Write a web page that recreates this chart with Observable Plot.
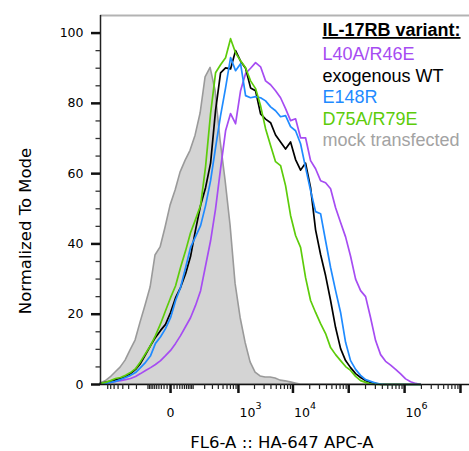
<!DOCTYPE html>
<html><head><meta charset="utf-8">
<script src="https://cdn.jsdelivr.net/npm/d3@7"></script>
<script src="https://cdn.jsdelivr.net/npm/@observablehq/plot@0.6"></script>
<style>
html,body{margin:0;padding:0;background:#fff;}
.legend-title text{text-decoration:underline;}
</style></head><body><div id="chart"></div>
<script>
// fluorescence intensity (FL6-A) at which each histogram height is read
const bins = [-1098,-881,-705,-562,-445,-350,-273,-210,-159,-117,-83,-56,-33,-15,0,
  15,33,56,83,117,159,210,273,350,445,
  562,705,881,1098,1364,1691,2092,2586,3192,3939,
  4850,5974,7358,9055,11140,13710,16860,20730,25490,31350,
  38530,47360,58220,71550,87900,108000,132800,163200,200600,246400,
  302800,372100,457300,562000,690700,849000,1043000,1282000,1575000,1935000];

const mock = [0.3,0.9,2.0,3.4,4.8,6.8,9.7,12.5,17.6,22.5,27.6,36.7,39.0,44.6,50.9,
  55.2,60.3,63.7,66.5,70.8,77.1,87.4,90.1,83.6,69.4,
  58.0,45.2,28.7,19.0,11.9,6.3,3.4,2.3,2.0,2.0,
  1.7,1.1,0.9,0.6,0.3,0,0,0,0,0,
  0,0,0,0,0,0,0,0,0,0,
  0,0,0,0,0,0,0,0,0,0];

const l40a = [0.3,0.3,0.6,0.9,1.1,1.4,1.7,2.3,3.1,4.0,4.8,5.7,6.8,8.2,9.7,
  11.7,13.9,16.5,19.0,22.5,26.7,33.8,40.9,50.0,61.4,
  72.2,77.1,74.2,83.6,88.5,90.0,91.6,90.4,86.4,85.3,
  83.6,81.6,78.5,75.1,75.6,70.2,70.2,63.7,61.4,58.0,
  57.4,55.7,50.3,46.1,42.0,36.5,30.0,26.7,25.0,19.0,
  12.5,8.5,6.6,5.5,4.3,3.0,1.6,0.8,0.3,0];

const wt = [0.3,0.6,0.9,1.4,1.7,2.3,3.1,4.3,6.0,8.5,11.1,13.4,15.4,17.1,20.5,
  24.7,27.6,31.6,36.4,44.0,51.0,56.0,63.0,78.0,88.7,
  90.1,89.8,95.0,92.0,90.0,84.4,83.6,77.0,75.5,74.5,
  71.0,69.0,67.0,69.0,64.0,61.0,63.0,56.0,44.0,37.0,
  31.0,23.9,16.2,10.2,6.8,4.8,3.1,2.0,1.1,0.6,
  0.3,0,0,0,0,0,0,0,0,0];

const e148r = [0.3,0.3,0.6,0.9,1.4,2.0,2.6,3.4,4.8,6.3,8.2,11.7,13.6,15.9,19.0,
  23.9,27.6,33.3,39.0,42.1,45.2,50.9,58.0,67.4,76.5,
  84.4,93.0,89.3,91.3,82.2,81.6,81.9,81.6,80.7,79.0,
  77.9,76.2,76.5,73.4,72.2,68.5,61.7,55.2,49.2,48.6,
  40.9,33.3,26.7,20.5,12.0,6.8,4.3,2.6,1.4,0.9,
  0.4,0.1,0,0,0,0,0,0,0,0];

const d75a = [0.3,0.6,1.1,1.7,2.0,2.6,3.4,4.5,6.5,8.8,11.1,13.9,17.3,21.0,24.7,
  28.1,33.3,38.1,43.2,47.0,51.0,62.0,77.1,88.7,91.0,
  93.0,98.4,94.4,92.1,90.1,86.4,84.2,79.3,72.8,68.0,
  63.4,62.3,56.6,48.1,42.4,39.0,30.4,23.9,20.5,17.3,
  14.5,10.5,8.5,6.8,5.1,4.0,2.3,1.1,0.6,0.1,
  0,0,0,0,0,0,0,0,0,0];

const seriesNames = ["L40A/R46E", "exogenous WT", "E148R", "D75A/R79E"];
const seriesColors = ["#a64cf2", "#000000", "#1f8bff", "#5dcc0a"];
const seriesValues = [l40a, wt, e148r, d75a];
const mockName = "mock transfected";
const legendTitle = "IL-17RB variant:";
const xTitle = "FL6-A :: HA-647 APC-A";
const yTitle = "Normalized To Mode";

const yTicks = [0, 20, 40, 60, 80, 100];
const yMinorTicks = [5,10,15,25,30,35,45,50,55,65,70,75,85,90,95];
const xMajorTicks = [0, 1e3, 1e4, 1e5, 1e6, 1e7];
const xLabelValues = [0, 1e3, 1e4, 1e6];
const xLabelBases = ["0", "10", "10", "10"];
const xLabelExps = ["", "3", "4", "6"];

const xMinorTicks = [];
for (let v = -800; v <= -100; v += 100) xMinorTicks.push(v);
for (let v = -90; v <= 90; v += 10) if (v !== 0) xMinorTicks.push(v);
for (let v = 100; v <= 900; v += 100) xMinorTicks.push(v);
for (const d of [1e3, 1e4, 1e5, 1e6]) for (let k = 2; k <= 9; k++) xMinorTicks.push(k * d);

const xMin = -1100, xMax = 1.45e7, yMax = 105;

const rows = (vals) => bins.map((x, i) => ({x, y: vals[i]}));
const labelRows = xLabelValues.map((v, i) => ({v, base: xLabelBases[i], exp: xLabelExps[i]}));

const sans = "DejaVu Sans";
const helv = "Liberation Sans, Arial, Helvetica, sans-serif";

const lineMarks = seriesValues.map((vals, i) =>
  Plot.line(rows(vals), {x: "x", y: "y", stroke: seriesColors[i], strokeWidth: 1.7, curve: "linear"}));

const legendMarks = seriesNames.concat([mockName]).map((name, i) =>
  Plot.text([name], {text: d => d, frameAnchor: "top-left", textAnchor: "start", lineAnchor: "bottom",
    dx: 222, dy: 44.5 + i * 21.6, fontSize: 18, fontFamily: helv,
    fill: i < 4 ? seriesColors[i] : "#a3a3a3"}));

const chart = Plot.plot({
  width: 469, height: 451,
  marginLeft: 100, marginRight: 0, marginTop: 15, marginBottom: 67,
  style: {fontFamily: sans, fontSize: "12.5px", background: "#fff", color: "#000", overflow: "visible"},
  x: {type: "symlog", constant: 65, domain: [xMin, xMax], axis: null},
  y: {domain: [0, yMax]},
  marks: [
    Plot.areaY(rows(mock), {x: "x", y: "y", fill: "#d4d4d4", stroke: "#9a9a9a", strokeWidth: 1.6, curve: "linear"}),
    ...lineMarks,
    // frame lines
    Plot.ruleY([yMax], {stroke: "#b3b3b3", strokeWidth: 2}),
    Plot.ruleX([xMin], {y1: 0, y2: yMax, stroke: "#222", strokeWidth: 1.5}),
    Plot.ruleY([0], {stroke: "#111", strokeWidth: 1.5}),
    // y ticks
    Plot.ruleY(yTicks, {x1: xMin, x2: xMin, insetLeft: -9, stroke: "#111", strokeWidth: 2.5}),
    Plot.ruleY(yMinorTicks, {x1: xMin, x2: xMin, insetLeft: -4.5, stroke: "#333", strokeWidth: 1.3}),
    Plot.axisY(yTicks, {tickSize: 0, tickPadding: 17, fontSize: 12.5, label: null}),
    // x ticks
    Plot.ruleX(xMajorTicks, {y1: 0, y2: 0, insetBottom: -9, stroke: "#111", strokeWidth: 2.5}),
    Plot.ruleX(xMinorTicks, {y1: 0, y2: 0, insetBottom: -5, stroke: "#222", strokeWidth: 1.2}),
    Plot.text(labelRows.filter(d => d.exp === ""), {x: "v", text: "base", frameAnchor: "bottom", dy: 28, textAnchor: "middle", lineAnchor: "middle", fontSize: 12.5}),
    Plot.text(labelRows.filter(d => d.exp !== ""), {x: "v", text: "base", frameAnchor: "bottom", dy: 28, textAnchor: "start", dx: 1, lineAnchor: "middle", fontSize: 12.5}),
    Plot.text(labelRows.filter(d => d.exp !== ""), {x: "v", text: "exp", frameAnchor: "bottom", dy: 21, textAnchor: "start", dx: 17, lineAnchor: "middle", fontSize: 9.5}),
    // titles (placed precisely below)
    Plot.text([xTitle], {text: d => d, frameAnchor: "bottom", fontSize: 16.5, fontFamily: sans, className: "x-title"}),
    Plot.text([yTitle], {text: d => d, frameAnchor: "left", fontSize: 16.5, fontFamily: sans, className: "y-title"}),
    Plot.text([legendTitle], {text: d => d, frameAnchor: "top-left", textAnchor: "start", lineAnchor: "bottom", dx: 222, dy: 20.5, fontSize: 18, fontWeight: "bold", fontFamily: helv, className: "legend-title"}),
    ...legendMarks
  ]
});

// place the axis titles at their positions in the figure
const svg = d3.select(chart);
svg.select("g.x-title").attr("transform", null).attr("text-anchor", "middle")
  .selectAll("text").attr("transform", "translate(282,447.5)").attr("dy", null);
svg.select("g.y-title").attr("transform", null).attr("text-anchor", "middle")
  .selectAll("text").attr("transform", "translate(25.5,231) rotate(-90)").attr("dy", null);

document.getElementById("chart").appendChild(chart);
</script></body></html>
